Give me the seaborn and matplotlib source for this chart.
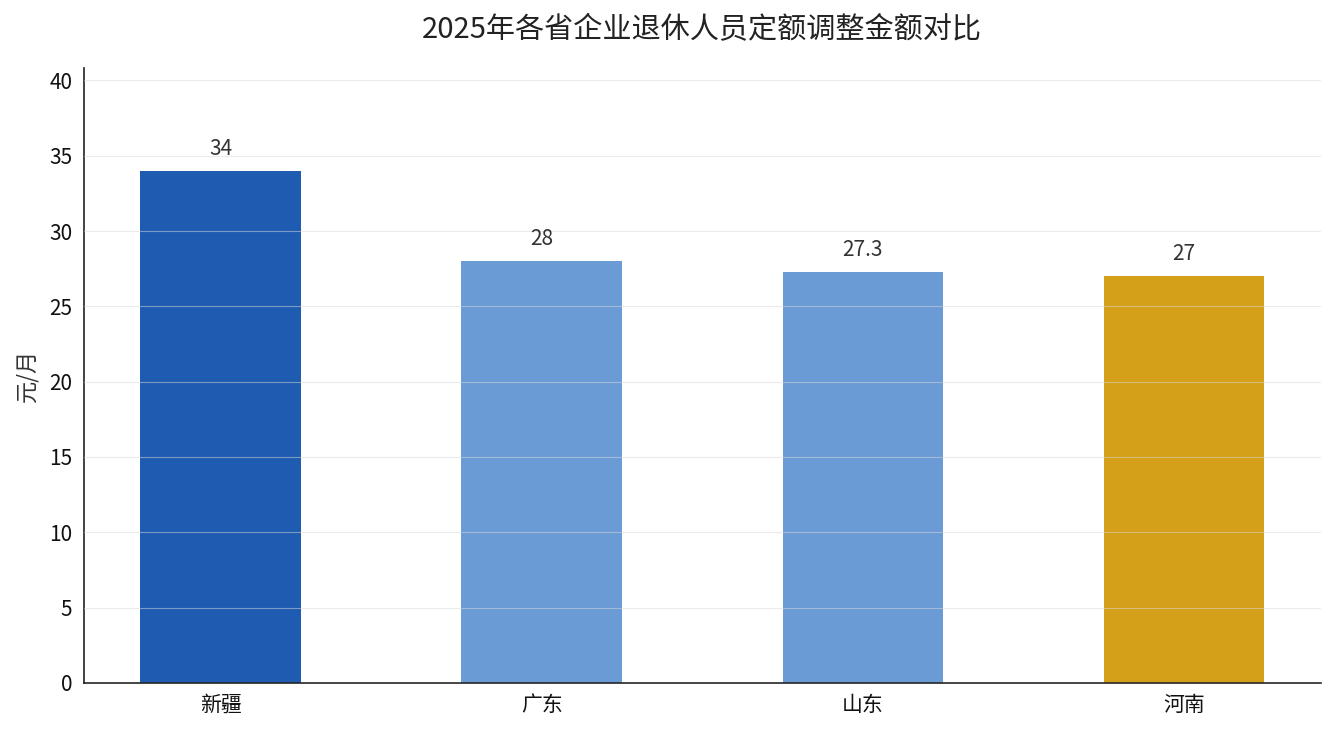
import matplotlib
matplotlib.use('Agg')
import matplotlib.pyplot as plt
import seaborn as sns
import pandas as pd

# 数据
provinces = ['新疆', '广东', '山东', '河南']
amounts = [34, 28, 27.3, 27]
bar_colors = ['#1f5bb0', '#6b9bd4', '#6b9bd4', '#d4a01a']
value_labels = ['34', '28', '27.3', '27']


def main():
    sns.set_style('white')
    plt.rcParams['font.family'] = ['Noto Sans CJK SC', 'DejaVu Sans']
    plt.rcParams['axes.unicode_minus'] = False

    df = pd.DataFrame({'省份': provinces, '金额': amounts})

    fig, ax = plt.subplots(figsize=(13.34, 7.35), dpi=100)
    sns.barplot(data=df, x='省份', y='金额', hue='省份', palette=bar_colors,
                width=0.5, saturation=1, legend=False, linewidth=0, ax=ax)

    for p, txt in zip(ax.patches, value_labels):
        ax.annotate(txt, (p.get_x() + p.get_width() / 2, p.get_height()),
                    xytext=(0, 8), textcoords='offset points',
                    ha='center', va='bottom', fontsize=15, color='#333333')

    ax.set_xlim(-0.425, len(provinces) - 1 + 0.425)
    ax.set_ylim(0, max(amounts) * 1.2)
    ax.set_yticks(range(0, 41, 5))
    ax.set_xlabel('')
    ax.set_ylabel('元/月', fontsize=16, color='#333333', labelpad=8)
    ax.set_title('2025年各省企业退休人员定额调整金额对比', fontsize=21, pad=22, color='#222222')

    # 网格线画在柱子上面
    ax.set_axisbelow(False)
    ax.yaxis.grid(True, color='#d9d9d9', alpha=0.5, linewidth=0.8)
    ax.xaxis.grid(False)

    sns.despine(ax=ax)
    for s in ['left', 'bottom']:
        ax.spines[s].set_color('#222222')
        ax.spines[s].set_linewidth(1.2)
    ax.tick_params(axis='both', labelsize=15, colors='#111111', length=5, width=1)
    ax.tick_params(axis='x', length=0, pad=8)

    fig.subplots_adjust(left=0.063, right=0.99, top=0.907, bottom=0.071)
    plt.savefig('out.png', dpi=100)


if __name__ == "__main__":
    main()
